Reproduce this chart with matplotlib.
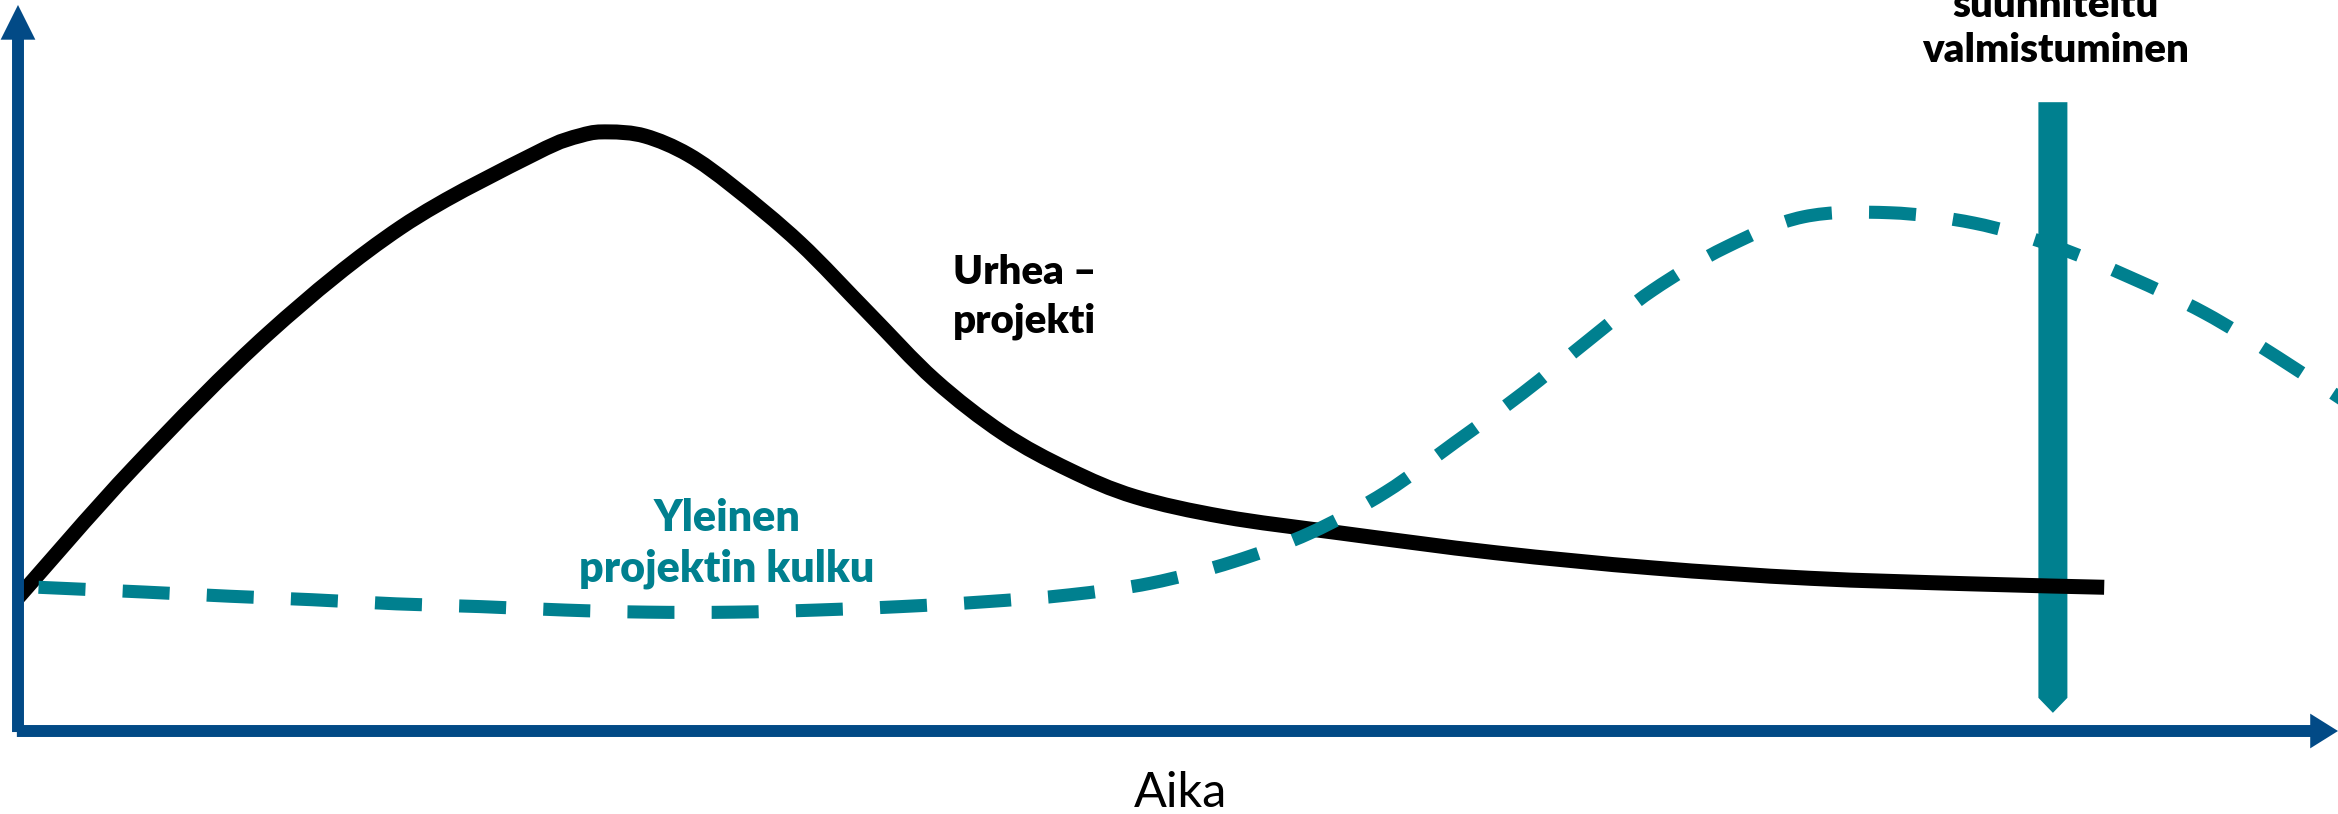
import matplotlib
matplotlib.use("Agg")
import numpy as np
import matplotlib.pyplot as plt
from matplotlib.patches import Polygon, PathPatch
from matplotlib.path import Path

# Effort over time: bold project vs. the usual project course
# (time 0..100, effort 0..100, no ticks drawn)

urhea_aika = [0.0, 5.1, 11.0, 16.8, 22.7, 24.7, 25.9, 27.5, 29.4, 31.4,
              34.3, 37.3, 40.2, 43.2, 46.1, 49.0, 52.9, 57.9, 64.8, 71.7,
              78.6, 85.6, 91.5]
urhea_panos = [19.3, 38.2, 57.6, 72.9, 83.6, 86.2, 86.7, 86.1, 83.4, 78.7,
               70.6, 60.5, 50.8, 43.1, 37.8, 33.9, 31.0, 28.7, 25.8, 23.6,
               22.1, 21.3, 20.8]

yleinen_aika = [0.9, 5.6, 9.3, 12.9, 16.6, 20.3, 24.0, 27.6, 31.4, 35.0, 38.7,
                42.4, 46.1, 49.7, 53.3, 56.7, 60.0, 63.0, 66.0, 68.9, 71.7,
                74.9, 78.3, 82.1, 85.8, 89.2, 92.6, 95.9, 99.1, 102.3]
yleinen_panos = [20.8, 20.1, 19.5, 19.0, 18.4, 18.0, 17.5, 17.2, 17.2, 17.5, 18.0,
                 18.7, 19.7, 21.4, 24.5, 28.7, 34.6, 41.7, 48.9, 56.6, 63.8,
                 70.0, 74.4, 75.0, 73.5, 70.3, 65.7, 60.5, 54.1, 47.2]

valmistuminen_aika = 89.25
valmistuminen_yla = 91.0
valmistuminen_ala = 4.8

SININEN = "#024a86"
TURKOOSI = "#00808f"
FONTTI = "Lato"

# pixel scale of the data units (figure is drawn at 100 dpi)
PX_X = 22.8
PX_Y = 6.91


def smooth_path(xs, ys):
    """Catmull-Rom curve through the points, as cubic Bezier segments."""
    p = np.column_stack([xs, ys]).astype(float)
    p_ext = np.vstack([p[0], p, p[-1]])
    verts = [p[0]]
    codes = [Path.MOVETO]
    for i in range(1, len(p_ext) - 2):
        p0, p1, p2, p3 = p_ext[i - 1], p_ext[i], p_ext[i + 1], p_ext[i + 2]
        verts += [p1 + (p2 - p0) / 6.0, p2 - (p3 - p1) / 6.0, p2]
        codes += [Path.CURVE4] * 3
    return Path(verts, codes)


fig = plt.figure(figsize=(23.38, 8.14), dpi=100)
ax = fig.add_axes([0, 0, 1, 1])
ax.set_xlim(-18 / PX_X, 2320 / PX_X)
ax.set_ylim(-83 / PX_Y, 731 / PX_Y)
ax.axis("off")

# planned completion marker: a bar with a pointed foot
puoli = 14.5 / PX_X
karki = 15 / PX_Y
ax.add_patch(Polygon([
    (valmistuminen_aika - puoli, valmistuminen_yla),
    (valmistuminen_aika + puoli, valmistuminen_yla),
    (valmistuminen_aika + puoli, valmistuminen_ala),
    (valmistuminen_aika, valmistuminen_ala - karki),
    (valmistuminen_aika - puoli, valmistuminen_ala),
], closed=True, fc=TURKOOSI, ec="none", zorder=1))

ax.add_patch(PathPatch(smooth_path(urhea_aika, urhea_panos), fill=False,
                       ec="black", lw=10.8, capstyle="butt", joinstyle="round",
                       zorder=2))
ax.add_patch(PathPatch(smooth_path(yleinen_aika, yleinen_panos), fill=False,
                       ec=TURKOOSI, lw=9.4, linestyle=(0, (3.6, 2.85)),
                       capstyle="butt", zorder=3))

# axes arrows
ax.annotate("", xy=(0, 105.07), xytext=(0, -0.15), annotation_clip=False,
            arrowprops=dict(arrowstyle="simple,head_length=25,head_width=25,tail_width=8.6",
                            mutation_scale=1, fc=SININEN, ec="none",
                            shrinkA=0, shrinkB=0), zorder=4)
ax.annotate("", xy=(2320 / PX_X, 0), xytext=(-0.05, 0), annotation_clip=False,
            arrowprops=dict(arrowstyle="simple,head_length=20,head_width=25,tail_width=8.6",
                            mutation_scale=1, fc=SININEN, ec="none",
                            shrinkA=0, shrinkB=0), zorder=4)

# labels
bold = dict(va="baseline", fontsize=29, fontweight="heavy", family=FONTTI)
ax.text(valmistuminen_aika + 0.1, 103.3, "suunniteltu", ha="center", color="black", **bold)
ax.text(valmistuminen_aika + 0.1, 96.8, "valmistuminen", ha="center", color="black", **bold)

ax.text(41.0, 64.7, "Urhea –", ha="left", color="black", **bold)
ax.text(41.0, 57.6, "projekti", ha="left", color="black", **bold)

ax.text(31.1, 28.9, "Yleinen", ha="center", color=TURKOOSI,
        **{**bold, "fontsize": 31})
ax.text(31.1, 21.6, "projektin kulku", ha="center", color=TURKOOSI,
        **{**bold, "fontsize": 31})

ax.text(51.0, -11.0, "Aika", ha="center", va="baseline",
        fontsize=35, family=FONTTI, color="black")

fig.savefig("out.png", dpi=100)
